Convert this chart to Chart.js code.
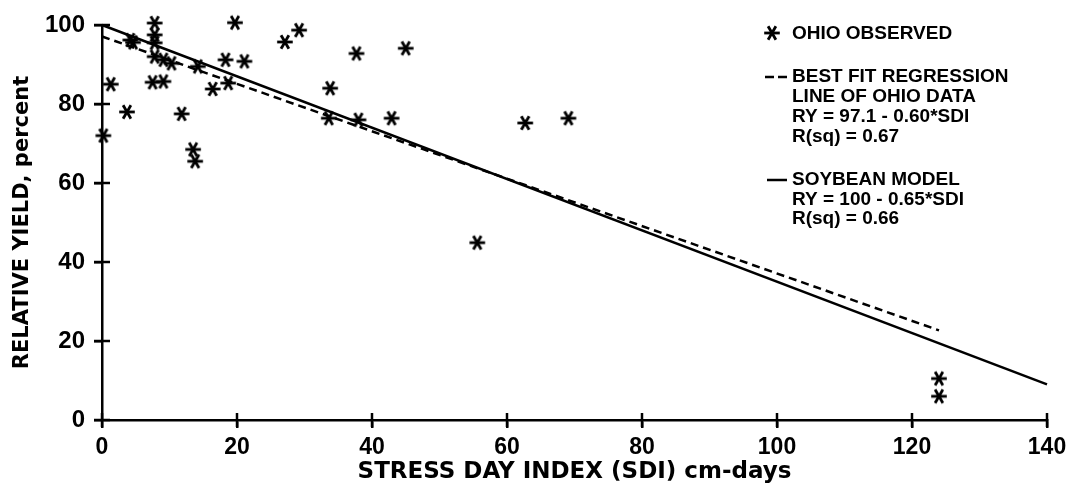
<!DOCTYPE html>
<html><head><meta charset="utf-8">
<script src="https://cdn.jsdelivr.net/npm/chart.js@4.4.1/dist/chart.umd.min.js"></script>
<style>html,body{margin:0;padding:0;background:#fff}#wrap{width:1074px;height:486px;position:relative}</style>
</head><body><div id="wrap"><canvas id="c" width="1074" height="486"></canvas></div>
<script>
// Observed points (SDI, relative yield %)
const obsX = [0.2, 1.3, 3.7, 4.2, 4.6, 7.8, 7.8, 7.8, 7.8, 7.5, 9.1, 9.1, 10.3, 11.8, 13.5, 13.8, 14.2, 16.4, 18.3, 18.7, 19.7, 21.1, 27.1, 29.2, 33.8, 33.6, 37.7, 38.0, 42.9, 45.0, 55.6, 62.7, 69.1, 124, 124];
const obsY = [72, 85, 78, 96.2, 95.6, 100.5, 97.5, 95.5, 92, 85.5, 85.7, 91.2, 90.3, 77.5, 68.5, 65.5, 89.5, 83.8, 91.2, 85.3, 100.6, 90.8, 95.7, 98.7, 84.0, 76.4, 92.8, 76.0, 76.4, 94.1, 44.9, 75.2, 76.4, 10.5, 6];
// Best fit regression line of Ohio data (end points)
const fitX = [0, 124];
const fitY = [97.1, 22.7];
// Soybean model line (end points)
const modelX = [0, 140];
const modelY = [100, 9];
// Axis ticks
const xTicks = [0, 20, 40, 60, 80, 100, 120, 140];
const yTicks = [0, 20, 40, 60, 80, 100];
const xTitle = 'STRESS DAY INDEX (SDI) cm-days';
const yTitle = 'RELATIVE YIELD, percent';
const legendObs = ['OHIO OBSERVED'];
const legendFit = ['BEST FIT REGRESSION', 'LINE OF OHIO DATA', 'RY = 97.1 - 0.60*SDI', 'R(sq) = 0.67'];
const legendModel = ['SOYBEAN MODEL', 'RY = 100 - 0.65*SDI', 'R(sq) = 0.66'];

function makeStar() {
  const s = 20, c = document.createElement('canvas');
  c.width = s; c.height = s;
  const g = c.getContext('2d');
  g.strokeStyle = '#000'; g.lineWidth = 2.8; g.lineCap = 'butt';
  const r = 7.8, cx = s / 2, cy = s / 2;
  [0, 60, 120].forEach(a => {
    const t = a * Math.PI / 180;
    g.beginPath();
    g.moveTo(cx - r * Math.cos(t), cy - r * Math.sin(t));
    g.lineTo(cx + r * Math.cos(t), cy + r * Math.sin(t));
    g.stroke();
  });
  return c;
}
const star = makeStar();

const decor = {
  id: 'decor',
  afterDraw(chart) {
    const ctx = chart.ctx;
    const xs = chart.scales['x'], ys = chart.scales['y'];
    ctx.save();
    ctx.setLineDash([]);
    ctx.strokeStyle = '#000'; ctx.fillStyle = '#000';
    ctx.lineWidth = 2.5;
    const y0 = ys.getPixelForValue(0), x0 = xs.getPixelForValue(0);
    for (let i = 0; i < xTicks.length; i++) {
      const px = xs.getPixelForValue(xTicks[i]);
      ctx.beginPath(); ctx.moveTo(px, y0 - 7); ctx.lineTo(px, y0 + 7); ctx.stroke();
    }
    for (let i = 0; i < yTicks.length; i++) {
      const py = ys.getPixelForValue(yTicks[i]);
      ctx.beginPath(); ctx.moveTo(x0 - 8, py); ctx.lineTo(x0 + 8, py); ctx.stroke();
    }
    // legend
    ctx.font = 'bold 19px "Liberation Sans", Arial, sans-serif';
    ctx.textBaseline = 'middle'; ctx.textAlign = 'left';
    const tx = 792;
    ctx.drawImage(star, 772 - 10, 33 - 10);
    ctx.fillText(legendObs[0], tx, 34);
    ctx.beginPath(); ctx.moveTo(765, 77); ctx.lineTo(774, 77); ctx.moveTo(778, 77); ctx.lineTo(787, 77); ctx.stroke();
    const fitYs = [77, 96.5, 117, 137];
    legendFit.forEach((t, i) => ctx.fillText(t, tx, fitYs[i]));
    ctx.beginPath(); ctx.moveTo(767, 180); ctx.lineTo(787, 180); ctx.stroke();
    const modYs = [180, 200, 219];
    legendModel.forEach((t, i) => ctx.fillText(t, tx, modYs[i]));
    ctx.restore();
  }
};

const gridOpts = { display: true, drawOnChartArea: false, drawTicks: true, tickLength: 8, color: '#000', lineWidth: 2.5 };

new Chart(document.getElementById('c'), {
  type: 'scatter',
  data: {
    datasets: [
      {
        label: 'OHIO OBSERVED',
        data: obsX.map((x, i) => ({x, y: obsY[i]})),
        pointStyle: star, pointRadius: 8, clip: false,
        showLine: false
      },
      {
        label: 'BEST FIT',
        data: fitX.map((x, i) => ({x, y: fitY[i]})),
        showLine: true, borderColor: '#000', borderWidth: 2.5, borderDash: [8, 5],
        pointRadius: 0, clip: false
      },
      {
        label: 'SOYBEAN MODEL',
        data: modelX.map((x, i) => ({x, y: modelY[i]})),
        showLine: true, borderColor: '#000', borderWidth: 2.5,
        pointRadius: 0, clip: false
      }
    ]
  },
  options: {
    responsive: false, animation: false, devicePixelRatio: 1,
    layout: { autoPadding: false, padding: { left: 0, top: 25, right: 27, bottom: 0 } },
    plugins: { legend: { display: false }, tooltip: { enabled: false } },
    scales: {
      x: {
        type: 'linear', min: 0, max: 140,
        afterFit: s => { s.height = 66; },
        afterBuildTicks: s => { s.ticks = xTicks.map(v => ({value: v})); },
        grid: gridOpts,
        border: { display: true, color: '#000', width: 2.5 },
        ticks: { color: '#000', padding: 6, font: { family: '"Liberation Sans", Arial, sans-serif', size: 23, weight: 'bold' }, maxRotation: 0 },
        title: { display: true, text: xTitle, color: '#000', padding: { top: 0, bottom: 0 }, font: { family: '"DejaVu Sans", sans-serif', size: 23, weight: 'bold' } }
      },
      y: {
        type: 'linear', min: 0, max: 100,
        afterFit: s => { s.width = 102; },
        afterBuildTicks: s => { s.ticks = yTicks.map(v => ({value: v})); },
        grid: gridOpts,
        border: { display: true, color: '#000', width: 2.5 },
        ticks: { color: '#000', padding: 9, font: { family: '"Liberation Sans", Arial, sans-serif', size: 24, weight: 'bold' } },
        title: { display: true, text: yTitle, color: '#000', padding: { top: 10, bottom: 0 }, font: { family: '"DejaVu Sans", sans-serif', size: 21, weight: 'bold' } }
      }
    }
  },
  plugins: [decor]
});
</script></body></html>
